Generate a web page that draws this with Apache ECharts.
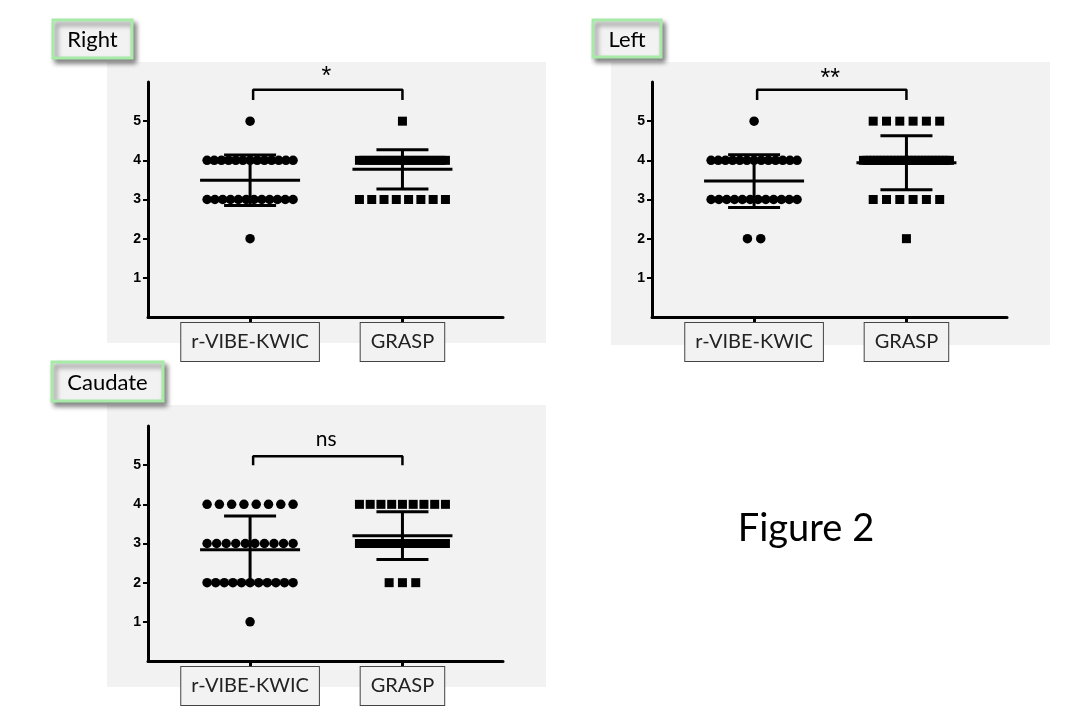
<!DOCTYPE html>
<html>
<head>
<meta charset="utf-8">
<script src="https://cdn.jsdelivr.net/npm/echarts@6/dist/echarts.min.js"></script>
<style>
  html, body { margin: 0; padding: 0; background: #fff; }
  #box { width: 1080px; height: 720px; }
</style>
</head>
<body>
<div id="box"></div>
<script>
// groups and tick labels
var cats = ['r-VIBE-KWIC', 'GRASP'];
var yTicks = [1, 2, 3, 4, 5];
var panelNames = ['Right', 'Left', 'Caudate'];
var sigLabels = ['*', '**', 'ns'];

// scores
var rightVibe = [5, 4, 4, 4, 4, 4, 4, 4, 4, 4, 4, 4, 4, 4, 3, 3, 3, 3, 3, 3, 3, 3, 3, 3, 3, 3, 2];
var rightGrasp = [5, 4, 4, 4, 4, 4, 4, 4, 4, 4, 4, 4, 4, 4, 4, 4, 4, 4, 4, 4, 4, 4, 3, 3, 3, 3, 3, 3, 3, 3];
var leftVibe = [5, 4, 4, 4, 4, 4, 4, 4, 4, 4, 4, 4, 4, 4, 3, 3, 3, 3, 3, 3, 3, 3, 3, 3, 3, 3, 2, 2];
var leftGrasp = [5, 5, 5, 5, 5, 5, 4, 4, 4, 4, 4, 4, 4, 4, 4, 4, 4, 4, 4, 4, 4, 4, 4, 4, 4, 4, 4, 4, 4, 4, 4, 4, 3, 3, 3, 3, 3, 3, 2];
var caudVibe = [4, 4, 4, 4, 4, 4, 4, 4, 3, 3, 3, 3, 3, 3, 3, 3, 3, 3, 2, 2, 2, 2, 2, 2, 2, 2, 2, 2, 2, 1];
var caudGrasp = [4, 4, 4, 4, 4, 4, 4, 4, 4, 3, 3, 3, 3, 3, 3, 3, 3, 3, 3, 3, 3, 3, 3, 3, 3, 3, 3, 2, 2, 2];

// mean and SD bars, as drawn
var rightMean = [3.49, 3.77];
var rightSd = [0.645, 0.5];
var leftMean = [3.47, 3.94];
var leftSd = [0.675, 0.69];
var caudMean = [2.84, 3.2];
var caudSd = [0.86, 0.61];

var groups = [
    [rightVibe, rightGrasp, rightMean, rightSd],
    [leftVibe, leftGrasp, leftMean, leftSd],
    [caudVibe, caudGrasp, caudMean, caudSd]
];

// layout of the three panels (px)
var panels = [
    { left: 148, top: 82, bg: [107, 62, 439, 281], title: [53, 20, 79, 38], bracket: [5.8, 5.54], sigDist: 0 },
    { left: 652, top: 82, bg: [611, 62, 439, 283], title: [593, 20, 68, 37], bracket: [5.8, 5.54], sigDist: -2 },
    { left: 148, top: 426, bg: [107, 405, 439, 282], title: [52, 362, 111, 39], bracket: [5.23, 5.0], sigDist: 6 }
];
var GRID_W = 355, GRID_H = 235;
var X_MIN = 0.33, X_MAX = 2.66;
var PX_PER_UNIT = GRID_W / (X_MAX - X_MIN);

/* spread tied points sideways, like a column scatter */
function spread(values, cat) {
    var counts = {}, seen = {}, pts = [];
    values.forEach(function (v) { counts[v] = (counts[v] || 0) + 1; });
    values.forEach(function (v) {
        var n = counts[v];
        var k = seen[v] || 0;
        seen[v] = k + 1;
        var gap = n > 1 ? Math.min(13.3, 86 / (n - 1)) : 0;
        var off = (k - (n - 1) / 2) * gap;
        pts.push([cat + off / PX_PER_UNIT, v]);
    });
    return pts;
}

function renderBar(params, api) {
    var x = api.value(0), m = api.value(1), s = api.value(2);
    var c = api.coord([x, m]);
    var t = api.coord([x, m + s]);
    var b = api.coord([x, m - s]);
    var st = { stroke: '#000', lineWidth: 3 };
    return {
        type: 'group',
        children: [
            { type: 'line', shape: { x1: c[0] - 50, y1: c[1], x2: c[0] + 50, y2: c[1] }, style: st },
            { type: 'line', shape: { x1: c[0], y1: t[1], x2: c[0], y2: b[1] }, style: st },
            { type: 'line', shape: { x1: c[0] - 26, y1: t[1], x2: c[0] + 26, y2: t[1] }, style: st },
            { type: 'line', shape: { x1: c[0] - 26, y1: b[1], x2: c[0] + 26, y2: b[1] }, style: st }
        ]
    };
}

var grid = [], xAxis = [], yAxis = [], series = [], graphic = [];

panels.forEach(function (p, i) {
    grid.push({ left: p.left, top: p.top, width: GRID_W, height: GRID_H, outerBoundsMode: 'none' });
    xAxis.push({
        gridIndex: i,
        type: 'value',
        min: X_MIN,
        max: X_MAX,
        splitLine: { show: false },
        axisLine: { onZero: false, lineStyle: { color: '#000', width: 3 } },
        axisTick: { customValues: [1, 2], length: 6, lineStyle: { color: '#000', width: 3 } },
        axisLabel: {
            customValues: [1, 2],
            margin: 6,
            formatter: function (v) { return cats[Math.round(v) - 1]; },
            fontFamily: 'Lato',
            fontSize: 20,
            color: '#222',
            backgroundColor: '#f2f2f2',
            borderColor: '#444',
            borderWidth: 1,
            padding: [9, 10, 9, 10]
        }
    });
    yAxis.push({
        gridIndex: i,
        type: 'value',
        min: 0,
        max: 6,
        splitLine: { show: false },
        axisLine: { lineStyle: { color: '#000', width: 3 } },
        axisTick: { customValues: yTicks, length: 5, lineStyle: { color: '#000', width: 2 } },
        axisLabel: {
            customValues: yTicks,
            margin: 7,
            fontFamily: 'Liberation Sans',
            fontWeight: 'bold',
            fontSize: 14,
            color: '#000'
        }
    });

    var g = groups[i];
    series.push({
        type: 'scatter', xAxisIndex: i, yAxisIndex: i,
        symbol: 'circle', symbolSize: 9.5,
        itemStyle: { color: '#000', opacity: 1 },
        data: spread(g[0], 1)
    });
    series.push({
        type: 'scatter', xAxisIndex: i, yAxisIndex: i,
        symbol: 'rect', symbolSize: 9,
        itemStyle: { color: '#000', opacity: 1 },
        data: spread(g[1], 2)
    });
    series.push({
        type: 'custom', xAxisIndex: i, yAxisIndex: i,
        renderItem: renderBar,
        encode: { x: 0, y: 1 },
        z: 5,
        data: [[1, g[2][0], g[3][0]], [2, g[2][1], g[3][1]]]
    });
    // significance bracket
    series.push({
        type: 'line', xAxisIndex: i, yAxisIndex: i,
        symbol: 'none', clip: false,
        lineStyle: { color: '#000', width: 2.5 },
        data: [[1.02, p.bracket[1]], [1.02, p.bracket[0]], [2, p.bracket[0]], [2, p.bracket[1]]]
    });
    series.push({
        type: 'scatter', xAxisIndex: i, yAxisIndex: i,
        symbolSize: 0, clip: false,
        itemStyle: { opacity: 1 },
        label: {
            show: true, position: 'top', distance: p.sigDist,
            formatter: sigLabels[i],
            fontFamily: i === 2 ? 'Lato' : 'Liberation Sans',
            fontSize: i === 2 ? 21 : 25,
            color: '#000'
        },
        data: [[1.5, p.bracket[0]]]
    });

    graphic.push({
        type: 'rect', z: -10,
        shape: { x: p.bg[0], y: p.bg[1], width: p.bg[2], height: p.bg[3] },
        style: { fill: '#f2f2f2' }
    });
    graphic.push({
        type: 'rect', z: 100,
        shape: { x: p.title[0], y: p.title[1], width: p.title[2], height: p.title[3] },
        style: {
            fill: '#f2f2f2', stroke: '#a8eaa8', lineWidth: 3,
            shadowBlur: 5, shadowOffsetX: 3, shadowOffsetY: 4, shadowColor: 'rgba(0,0,0,0.45)'
        }
    });
    graphic.push({
        type: 'text', z: 101,
        x: p.title[0] + p.title[2] / 2, y: p.title[1] + p.title[3] / 2 + 1,
        style: {
            text: panelNames[i], fontFamily: 'Lato', fontSize: 22, fill: '#000',
            align: 'center', verticalAlign: 'middle'
        }
    });
});

graphic.push({
    type: 'text',
    x: 806, y: 529,
    style: {
        text: 'Figure 2', fontFamily: 'Lato', fontSize: 38, fill: '#000',
        align: 'center', verticalAlign: 'middle'
    }
});

var myChart = echarts.init(document.getElementById('box'));
myChart.setOption({
    animation: false,
    backgroundColor: '#fff',
    grid: grid,
    xAxis: xAxis,
    yAxis: yAxis,
    series: series,
    graphic: graphic
});
</script>
</body>
</html>
